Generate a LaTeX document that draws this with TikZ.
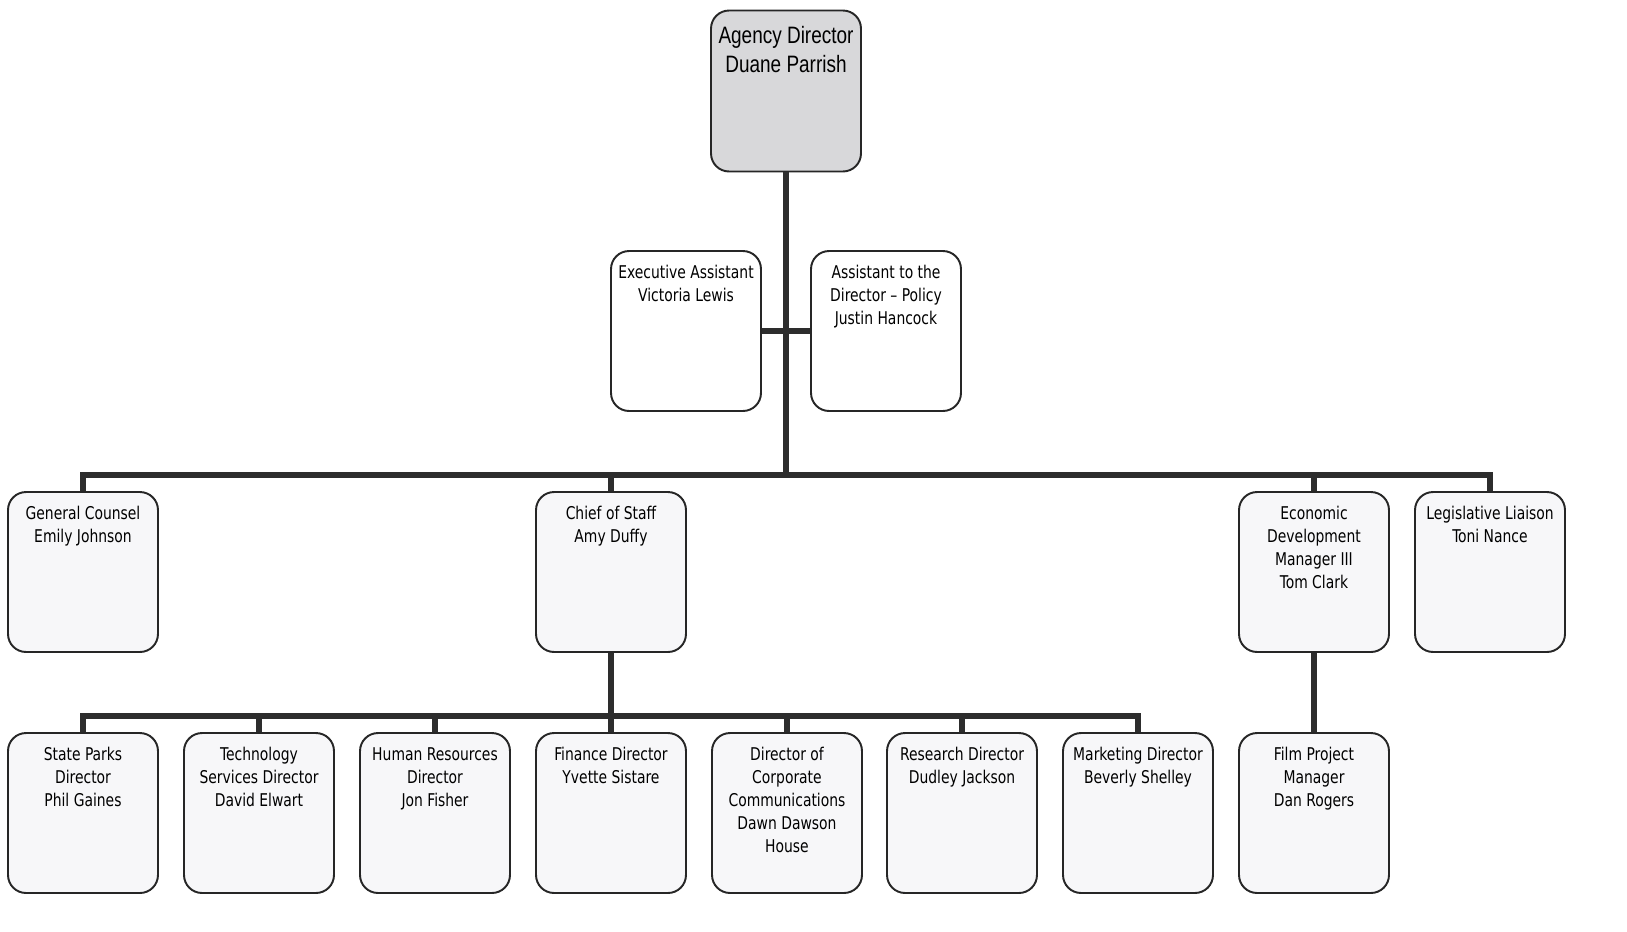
\documentclass[tikz,border=0pt]{standalone}
\usepackage{fontspec}
\usepackage{tikz}
\newfontfamily\boxfont[FakeStretch=0.88]{DejaVu Sans Condensed}
\newfontfamily\headfont[FakeStretch=0.8]{Liberation Sans}
\definecolor{linkgray}{RGB}{45,45,45}
\definecolor{headfill}{RGB}{216,216,218}
\definecolor{postfill}{RGB}{247,247,249}
\newcommand{\roletext}[1]{\parbox[t][2.98cm][t]{2.8cm}{\vspace*{0.18cm}\centering\boxfont\fontsize{10}{13}\selectfont #1}}
\newcommand{\headtext}[1]{\parbox[t][3.02cm][t]{2.8cm}{\vspace*{0.22cm}\centering\headfont\fontsize{13.5}{16.5}\selectfont #1}}
\tikzset{
  post/.style={draw=black!85, line width=1.1pt, rounded corners=0.36cm, fill=postfill,
    inner sep=0.1cm, minimum width=3cm, minimum height=3.2cm},
  aide/.style={post, fill=white},
  head/.style={post, fill=headfill},
  link/.style={draw=linkgray, line width=3.2pt}
}
\begin{document}
\begin{tikzpicture}[x=0.02cm,y=-0.02cm]
\useasboundingbox (0,0) rectangle (1627,931);
% director and assistants
\node[head] (dir) at (786,91) {\headtext{Agency Director\\Duane Parrish}};
\node[aide] (ea) at (686,331) {\roletext{Executive Assistant\\Victoria Lewis}};
\node[aide] (pa) at (886,331) {\roletext{Assistant to the\\Director – Policy\\Justin Hancock}};
% second level
\node[post] (gc) at (83,572) {\roletext{General Counsel\\Emily Johnson}};
\node[post] (cos) at (611,572) {\roletext{Chief of Staff\\Amy Duffy}};
\node[post] (ed) at (1314,572) {\roletext{Economic\\Development\\Manager III\\Tom Clark}};
\node[post] (ll) at (1490,572) {\roletext{Legislative Liaison\\Toni Nance}};
% third level
\node[post] (sp) at (83,813) {\roletext{State Parks\\Director\\Phil Gaines}};
\node[post] (ts) at (259,813) {\roletext{Technology\\Services Director\\David Elwart}};
\node[post] (hr) at (435,813) {\roletext{Human Resources\\Director\\Jon Fisher}};
\node[post] (fd) at (611,813) {\roletext{Finance Director\\Yvette Sistare}};
\node[post] (cc) at (787,813) {\roletext{Director of\\Corporate\\Communications\\Dawn Dawson\\House}};
\node[post] (rd) at (962,813) {\roletext{Research Director\\Dudley Jackson}};
\node[post] (md) at (1138,813) {\roletext{Marketing Director\\Beverly Shelley}};
\node[post] (fp) at (1314,813) {\roletext{Film Project\\Manager\\Dan Rogers}};
% connectors
\coordinate (bus1) at (786,475);
\coordinate (bus2) at (611,716);
\draw[link] (dir.south) -- (bus1);
\draw[link] (ea.east) -- (pa.west);
\draw[link] (gc.north) |- (bus1) -| (ll.north);
\draw[link] (cos.north) -- (cos.north |- bus1);
\draw[link] (ed.north) -- (ed.north |- bus1);
\draw[link] (sp.north) |- (bus2) -| (md.north);
\draw[link] (cos.south) -- (fd.north);
\draw[link] (ts.north) -- (ts.north |- bus2);
\draw[link] (hr.north) -- (hr.north |- bus2);
\draw[link] (cc.north) -- (cc.north |- bus2);
\draw[link] (rd.north) -- (rd.north |- bus2);
\draw[link] (ed.south) -- (fp.north);
\end{tikzpicture}
\end{document}
